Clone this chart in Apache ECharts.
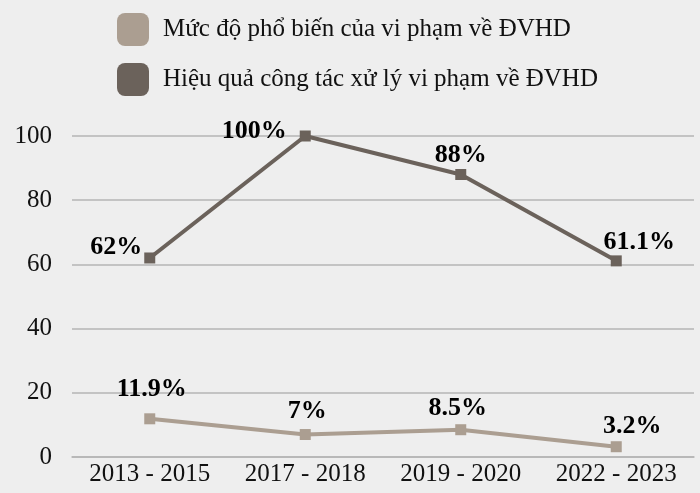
<!DOCTYPE html>
<html>
<head>
<meta charset="utf-8">
<script src="https://cdn.jsdelivr.net/npm/echarts@6/dist/echarts.min.js"></script>
<style>
  html, body { margin: 0; padding: 0; background: #eeeeee; }
  #chart { width: 700px; height: 493px; }
</style>
</head>
<body>
<div id="chart"></div>
<script>
const categories = ["2013 - 2015", "2017 - 2018", "2019 - 2020", "2022 - 2023"];
const prevalence = [11.9, 7, 8.5, 3.2];
const effectiveness = [62, 100, 88, 61.1];
const seriesNames = [
  "Mức độ phổ biến của vi phạm về ĐVHD",
  "Hiệu quả công tác xử lý vi phạm về ĐVHD"
];

const font = "'Liberation Serif', 'DejaVu Serif', serif";
const lightColor = "#ab9e91";
const darkColor = "#6b625b";

// label placement per point
const darkLabels = [
  { position: "left", offset: [3, -11] },
  { position: "left", offset: [-8, -5] },
  { position: "top", offset: [0, 4] },
  { position: "top", offset: [23, 5] },
];
const lightLabels = [
  { position: "top", offset: [2, -6] },
  { position: "top", offset: [2, 0] },
  { position: "top", offset: [-3, 2] },
  { position: "top", offset: [16, 3] },
];

const chart = echarts.init(document.getElementById("chart"));
chart.setOption({
  backgroundColor: "#eeeeee",
  textStyle: { fontFamily: font },
  legend: {
    orient: "vertical",
    left: 112,
    top: 8,
    itemWidth: 32,
    itemHeight: 33,
    itemGap: 17,
    icon: "roundRect",
    textStyle: { fontFamily: font, fontSize: 25, color: "#111", padding: [0, 0, 0, 9] },
    data: seriesNames,
  },
  grid: { left: 72, right: 6, top: 136, bottom: 36 },
  xAxis: {
    type: "category",
    data: categories,
    boundaryGap: true,
    axisLine: { lineStyle: { color: "#b5b5b5", width: 1.5 } },
    axisTick: { show: false },
    axisLabel: { fontFamily: font, fontSize: 25, color: "#111", margin: 5, interval: 0 },
  },
  yAxis: {
    type: "value",
    min: 0,
    max: 100,
    interval: 20,
    axisLine: { show: false },
    axisTick: { show: false },
    splitLine: { lineStyle: { color: "#b5b5b5", width: 1.5 } },
    axisLabel: { fontFamily: font, fontSize: 25, color: "#111", margin: 20 },
  },
  series: [
    {
      name: seriesNames[0],
      type: "line",
      data: prevalence.map((v, i) => ({ value: v, label: lightLabels[i] })),
      symbol: "rect",
      symbolSize: 11,
      lineStyle: { width: 4, color: lightColor },
      itemStyle: { color: lightColor },
      label: {
        show: true,
        formatter: (p) => p.value + "%",
        fontFamily: font,
        fontSize: 26,
        fontWeight: "bold",
        color: "#000",
      },
    },
    {
      name: seriesNames[1],
      type: "line",
      data: effectiveness.map((v, i) => ({ value: v, label: darkLabels[i] })),
      symbol: "rect",
      symbolSize: 11,
      lineStyle: { width: 4, color: darkColor },
      itemStyle: { color: darkColor },
      label: {
        show: true,
        formatter: (p) => p.value + "%",
        fontFamily: font,
        fontSize: 26,
        fontWeight: "bold",
        color: "#000",
      },
    },
  ],
});
</script>
</body>
</html>
